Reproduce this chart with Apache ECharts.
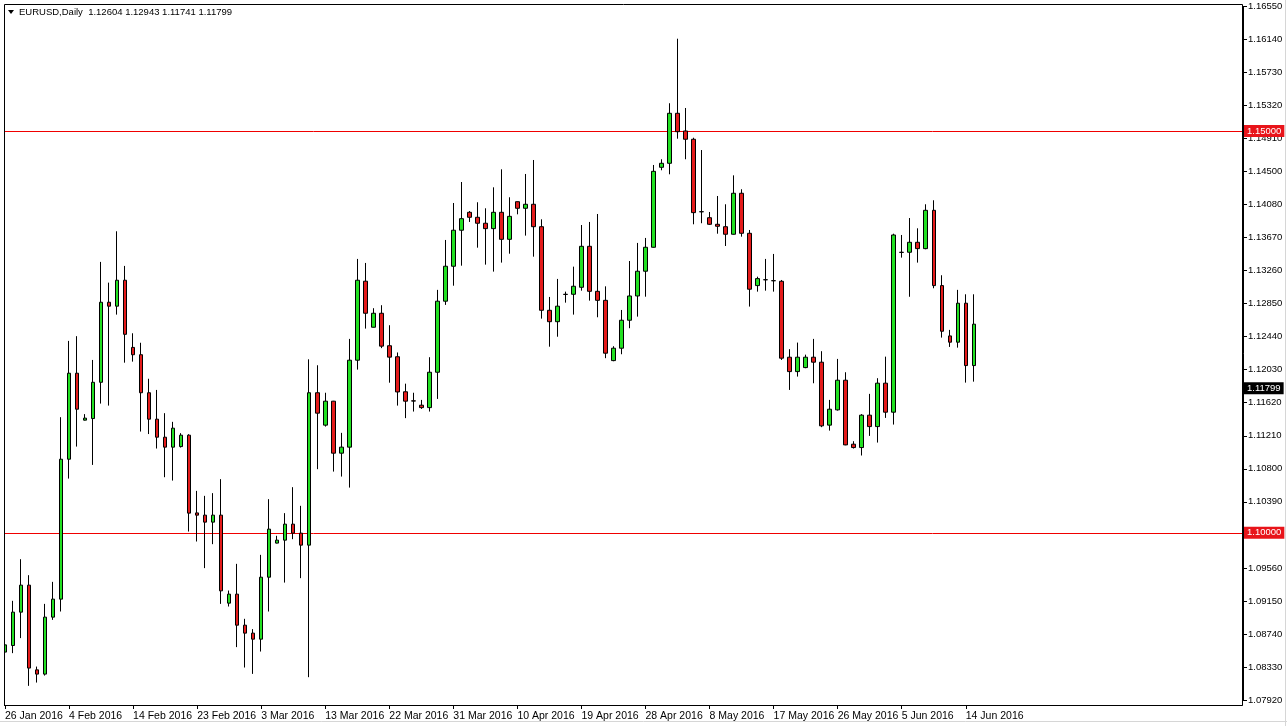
<!DOCTYPE html>
<html><head><meta charset="utf-8">
<script src="https://cdn.jsdelivr.net/npm/echarts@6/dist/echarts.min.js"></script>
<style>html,body{margin:0;padding:0;background:#fff}#c{width:1287px;height:726px}</style>
</head><body><div id="c"></div>
<script>
// ---- data ----
const dates = [
'26 Jan 2016','27 Jan 2016','28 Jan 2016','29 Jan 2016','31 Jan 2016',
'1 Feb 2016','2 Feb 2016','3 Feb 2016','4 Feb 2016','5 Feb 2016','7 Feb 2016','8 Feb 2016','9 Feb 2016','10 Feb 2016','11 Feb 2016','12 Feb 2016',
'14 Feb 2016','15 Feb 2016','16 Feb 2016','17 Feb 2016','18 Feb 2016','19 Feb 2016','21 Feb 2016','22 Feb 2016','23 Feb 2016','24 Feb 2016','25 Feb 2016','26 Feb 2016','28 Feb 2016','29 Feb 2016',
'1 Mar 2016','2 Mar 2016','3 Mar 2016','4 Mar 2016','6 Mar 2016','7 Mar 2016','8 Mar 2016','9 Mar 2016','10 Mar 2016','11 Mar 2016',
'13 Mar 2016','14 Mar 2016','15 Mar 2016','16 Mar 2016','17 Mar 2016','18 Mar 2016','20 Mar 2016','21 Mar 2016','22 Mar 2016','23 Mar 2016','24 Mar 2016','25 Mar 2016',
'27 Mar 2016','28 Mar 2016','29 Mar 2016','30 Mar 2016','31 Mar 2016','1 Apr 2016',
'3 Apr 2016','4 Apr 2016','5 Apr 2016','6 Apr 2016','7 Apr 2016','8 Apr 2016','10 Apr 2016','11 Apr 2016','12 Apr 2016','13 Apr 2016','14 Apr 2016','15 Apr 2016',
'17 Apr 2016','18 Apr 2016','19 Apr 2016','20 Apr 2016','21 Apr 2016','22 Apr 2016','24 Apr 2016','25 Apr 2016','26 Apr 2016','27 Apr 2016','28 Apr 2016','29 Apr 2016',
'1 May 2016','2 May 2016','3 May 2016','4 May 2016','5 May 2016','6 May 2016','8 May 2016','9 May 2016','10 May 2016','11 May 2016','12 May 2016','13 May 2016',
'15 May 2016','16 May 2016','17 May 2016','18 May 2016','19 May 2016','20 May 2016','22 May 2016','23 May 2016','24 May 2016','25 May 2016','26 May 2016','27 May 2016',
'29 May 2016','30 May 2016','31 May 2016','1 Jun 2016','2 Jun 2016','3 Jun 2016','5 Jun 2016','6 Jun 2016','7 Jun 2016','8 Jun 2016','9 Jun 2016','10 Jun 2016',
'12 Jun 2016','13 Jun 2016','14 Jun 2016','15 Jun 2016'
];
const open = [
1.08516,1.08598,1.09013,1.09349,1.08295,1.08242,1.08951,1.09175,1.10916,1.11986,
1.11402,1.11422,1.11873,1.12869,1.12820,1.13143,1.12307,1.12216,1.11743,1.11414,
1.11190,1.11066,1.11073,1.11215,1.10248,1.10220,1.10133,1.10220,1.09125,1.09237,
1.08851,1.08752,1.08677,1.09448,1.09872,1.09909,1.10108,1.09996,1.09847,1.11743,
1.11340,1.11638,1.10991,1.11066,1.12148,1.13131,1.12558,1.12732,1.12328,1.12191,
1.11755,1.11642,1.11588,1.11558,1.11998,1.12882,1.13317,1.13765,1.13988,1.13926,
1.13852,1.13785,1.13988,1.13652,1.14120,1.14038,1.14088,1.13809,1.12769,1.12627,
1.12968,1.12968,1.13055,1.13565,1.13005,1.12893,1.12143,1.12297,1.12645,1.12947,
1.13255,1.13553,1.14548,1.14598,1.15220,1.15000,1.14897,1.13996,1.13921,1.13839,
1.13809,1.13715,1.14225,1.13727,1.13076,1.13150,1.13138,1.13130,1.12185,1.12006,
1.12056,1.12185,1.12123,1.11340,1.11530,1.11899,1.11103,1.11061,1.11464,1.11322,
1.11862,1.11501,1.13491,1.13491,1.13615,1.13536,1.14013,1.13076,1.12450,1.12372,
1.12857,1.12081
];
const high = [
1.08752,1.09154,1.09672,1.09473,1.08336,1.09116,1.09390,1.11439,1.12388,1.12447,
1.11477,1.12151,1.13371,1.13113,1.13752,1.13321,1.12483,1.12365,1.11917,1.11778,
1.11489,1.11381,1.11240,1.11227,1.10522,1.10460,1.10494,1.10668,1.09282,1.09614,
1.08930,1.08802,1.09726,1.10419,1.09963,1.10245,1.10568,1.10336,1.12159,1.12085,
1.11743,1.11642,1.11244,1.12413,1.13408,1.13358,1.12795,1.12832,1.12583,1.12244,
1.11856,1.11743,1.11654,1.12185,1.13023,1.13644,1.14104,1.14365,1.14004,1.14113,
1.14038,1.14299,1.14523,1.14175,1.14123,1.14465,1.14639,1.13901,1.12935,1.13159,
1.13001,1.13312,1.13830,1.13868,1.13967,1.13067,1.12322,1.12773,1.13382,1.13607,
1.13669,1.14577,1.14648,1.15345,1.16148,1.15286,1.14916,1.14763,1.13992,1.14191,
1.14088,1.14448,1.14275,1.13768,1.13187,1.13408,1.13470,1.13146,1.12285,1.12367,
1.12217,1.12413,1.12260,1.11654,1.12164,1.11998,1.11140,1.11477,1.11729,1.11924,
1.12192,1.13722,1.13706,1.13917,1.13789,1.14088,1.14138,1.13205,1.12525,1.13023,
1.12968,1.12968
];
const low = [
1.08171,1.08503,1.08690,1.08096,1.08137,1.08224,1.08917,1.09021,1.10675,1.11073,
1.11398,1.10845,1.11608,1.11583,1.12715,1.12117,1.12130,1.11260,1.11229,1.11049,
1.10692,1.10650,1.11061,1.10016,1.09892,1.09561,1.09859,1.09116,1.09083,1.08578,
1.08324,1.08245,1.08523,1.09021,1.09868,1.09381,1.09921,1.09436,1.08204,1.10792,
1.11322,1.10762,1.10700,1.10563,1.12031,1.12541,1.12555,1.12298,1.11868,1.11583,
1.11427,1.11509,1.11542,1.11509,1.11666,1.12836,1.13075,1.13324,1.13868,1.13548,
1.13337,1.13250,1.13362,1.13473,1.13963,1.13698,1.13436,1.12665,1.12316,1.12440,
1.12864,1.12715,1.13013,1.12889,1.12682,1.12173,1.12135,1.12222,1.12546,1.12690,
1.12938,1.13549,1.14511,1.14461,1.14904,1.14648,1.13839,1.13852,1.13831,1.13722,
1.13569,1.13711,1.13685,1.12815,1.13001,1.13013,1.13001,1.12151,1.11778,1.11944,
1.12048,1.11861,1.11315,1.11272,1.11521,1.11090,1.11049,1.10962,1.11206,1.11123,
1.11430,1.11347,1.13424,1.12937,1.13362,1.13528,1.13043,1.12429,1.12313,1.12304,
1.11869,1.11881
];
const close = [
1.08606,1.09013,1.09349,1.08317,1.08242,1.08951,1.09175,1.10916,1.11986,1.11538,
1.11427,1.11873,1.12869,1.12820,1.13143,1.12470,1.12216,1.11743,1.11414,1.11190,
1.11066,1.11302,1.11215,1.10245,1.10220,1.10133,1.10220,1.09278,1.09237,1.08851,
1.08752,1.08677,1.09448,1.10046,1.09909,1.10108,1.09996,1.09847,1.11743,1.11489,
1.11638,1.10991,1.11066,1.12148,1.13143,1.12732,1.12732,1.12323,1.12186,1.11753,
1.11638,1.11640,1.11558,1.11998,1.12882,1.13317,1.13765,1.13909,1.13926,1.13852,
1.13785,1.13988,1.13652,1.13938,1.14038,1.14088,1.13809,1.12769,1.12627,1.12820,
1.12966,1.13068,1.13565,1.13005,1.12893,1.12235,1.12297,1.12645,1.12947,1.13255,
1.13553,1.14498,1.14598,1.15220,1.14991,1.14897,1.13984,1.13994,1.13839,1.13814,
1.13715,1.14225,1.13727,1.13031,1.13163,1.13148,1.13136,1.12173,1.12006,1.12185,
1.12185,1.12123,1.11331,1.11538,1.11899,1.11094,1.11061,1.11464,1.11322,1.11862,
1.11501,1.13706,1.13489,1.13615,1.13536,1.14013,1.13076,1.12508,1.12372,1.12857,
1.12081,1.12596
];
const yTickLabels = ['1.07920','1.08330','1.08740','1.09150','1.09560','1.09970','1.10390','1.10800','1.11210','1.11620','1.12030',
  '1.12440','1.12850','1.13260','1.13670','1.14080','1.14500','1.14910','1.15320','1.15730','1.16140','1.16550'];
const levelLines = [1.15000, 1.10000];
const currentPrice = 1.11799;
const headerSymbol = 'EURUSD,Daily';
const headerOHLC = ['1.12604','1.12943','1.11741','1.11799'];

// ---- layout / build ----
const yMin = 1.0792, yMax = 1.1655;
const yStep = (yMax - yMin) / (yTickLabels.length - 1);
const totalSlots = 155;
const cats = dates.concat(new Array(totalSlots - dates.length).fill(''));
const candles = dates.map((d, i) => [open[i], close[i], low[i], high[i]]);
const FONT = 'Liberation Sans';
const LINE_RED = '#f00000';
const showEvery8 = (idx, val) => idx % 8 === 0 && val !== '';
const tagLabel = bg => ({show: true, position: 'end', distance: 2, color: '#fff', fontFamily: FONT, fontSize: 9.5,
  padding: [1, 3, 1, 3], backgroundColor: bg, formatter: p => Number(p.value).toFixed(5)});

const staticGraphics = [
  {id: 'cover', type: 'rect', z: 100, shape: {x: 0, y: 0, width: 4, height: 726}, style: {fill: '#fff'}},
  {id: 'frame', type: 'rect', z: 101, shape: {x: 4.5, y: 4.5, width: 1238, height: 701}, style: {fill: 'none', stroke: '#000', lineWidth: 1}},
  {id: 'edgeR', type: 'line', z: 101, shape: {x1: 1285.5, y1: 0, x2: 1285.5, y2: 726}, style: {stroke: '#d6d6d6', lineWidth: 1}},
  {id: 'edgeB', type: 'line', z: 101, shape: {x1: 0, y1: 721.5, x2: 1287, y2: 721.5}, style: {stroke: '#d6d6d6', lineWidth: 1}},
  {id: 'tri', type: 'polygon', z: 102, shape: {points: [[8, 10], [14, 10], [11, 14]]}, style: {fill: '#000'}},
  {id: 'hdr', type: 'text', z: 102, x: 19, y: 12, style: {text: headerSymbol + '  ' + headerOHLC.join(' '),
    fill: '#000', font: '9.5px "Liberation Sans"', verticalAlign: 'middle'}}
];

const chart = echarts.init(document.getElementById('c'), null, {renderer: 'canvas'});
chart.setOption({
  animation: false,
  backgroundColor: '#ffffff',
  grid: {left: 1, right: 45, top: 6.4, bottom: 26, containLabel: false},
  xAxis: {
    type: 'category', data: cats, boundaryGap: true, offset: 5,
    axisLine: {show: true, lineStyle: {color: '#000', width: 1}},
    axisTick: {show: true, interval: showEvery8, alignWithLabel: true, length: 4, lineStyle: {color: '#000'}},
    axisLabel: {show: true, interval: showEvery8, align: 'left', margin: 6, color: '#000', fontFamily: FONT, fontSize: 10.5},
    splitLine: {show: false}
  },
  yAxis: {
    type: 'value', position: 'right', min: yMin, max: yMax, interval: yStep, offset: 1, scale: true,
    axisLine: {show: true, lineStyle: {color: '#000', width: 1}},
    axisTick: {show: true, length: 4, lineStyle: {color: '#000'}},
    axisLabel: {show: true, margin: 5, color: '#000', fontFamily: FONT, fontSize: 9.5,
      formatter: v => yTickLabels[Math.round((v - yMin) / yStep)] || ''},
    splitLine: {show: false}
  },
  series: [{
    type: 'candlestick',
    data: candles,
    barWidth: 4,
    z: 3,
    itemStyle: {color: '#22e022', color0: '#e41b1b', borderColor: '#000', borderColor0: '#000', borderWidth: 1}
  }, {
    type: 'line', name: 'tags', data: [], silent: true,
    markLine: {
      silent: true, symbol: ['none', 'none'], animation: false, precision: 5,
      lineStyle: {color: 'transparent', width: 1, type: 'solid'},
      label: tagLabel('#e8141a'),
      data: levelLines.map(v => ({yAxis: v})).concat([{yAxis: currentPrice, label: {backgroundColor: '#000'}}])
    }
  }],
  graphic: staticGraphics
});

// horizontal level lines, positioned through the y axis scale
const levelGraphics = levelLines.map((v, i) => {
  const y = Math.round(chart.convertToPixel({yAxisIndex: 0}, v)) + 0.5;
  return {id: 'lvl' + i, type: 'line', z: 2, silent: true,
          shape: {x1: 4, y1: y, x2: 1242, y2: y}, style: {stroke: LINE_RED, lineWidth: 1}};
});
chart.setOption({graphic: staticGraphics.concat(levelGraphics)});
</script></body></html>
